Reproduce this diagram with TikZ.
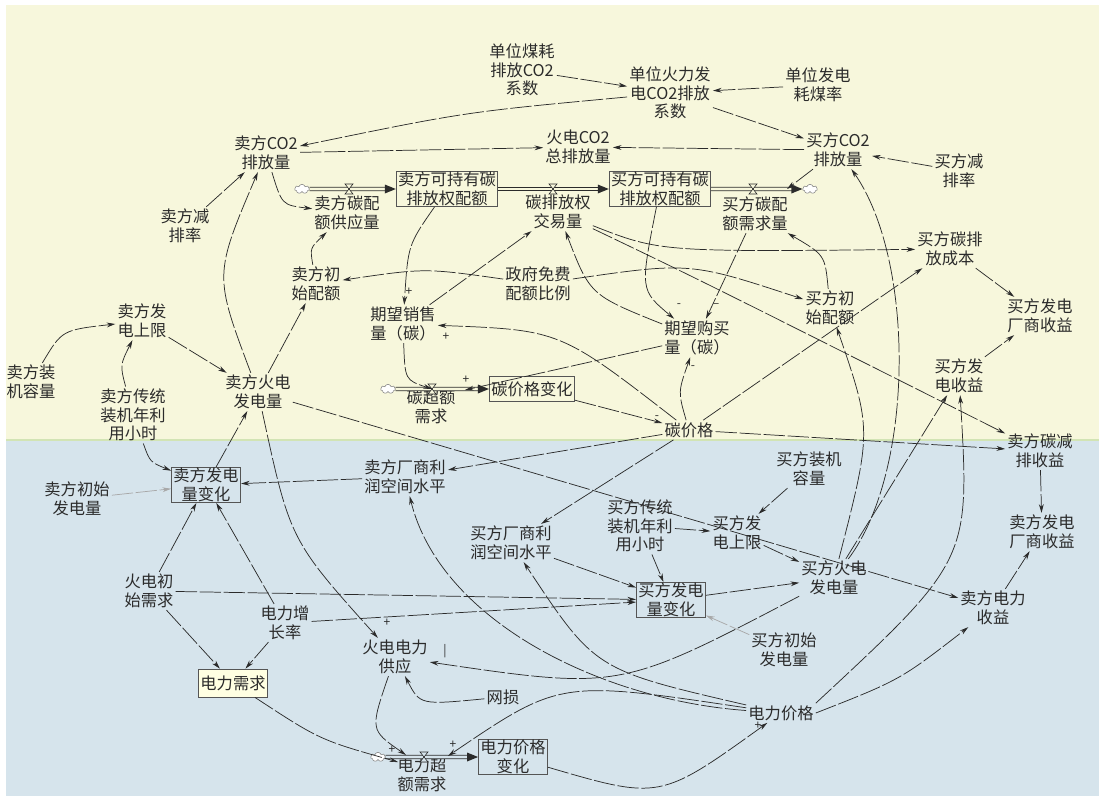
\documentclass[tikz,border=0pt]{standalone}
\usepackage{fontspec}
\setmainfont{Noto Sans CJK SC}
\usetikzlibrary{arrows.meta,shapes.symbols}
\definecolor{bgY}{HTML}{F7F7DC}
\definecolor{bgB}{HTML}{D6E4EC}
\definecolor{ink}{HTML}{2B2B2B}
\definecolor{sepc}{HTML}{D2E4B4}
\definecolor{grayarr}{HTML}{A8A8A8}
\definecolor{boxY}{HTML}{FFFFE2}
\begin{document}
\begin{tikzpicture}[x=0.75pt,y=-0.75pt,
  vn/.style={font=\fontsize{12.2}{14}\selectfont, align=center, text=ink, inner sep=1.5pt},
  stockbox/.style={vn, draw=ink!80, line width=0.6pt, inner xsep=1.5pt, inner ysep=0.5pt},
  lk/.style={draw=ink, line width=0.55pt, dash pattern=on 16pt off 2pt, -{Stealth[length=6.5pt,width=3.6pt]}},
  lkg/.style={lk, draw=grayarr},
  pol/.style={font=\fontsize{9}{9}\selectfont, text=ink, inner sep=0pt},
  pipe/.style={draw=ink, line width=0.5pt, double=#1, double distance=2.2pt},
  cl/.style={cloud, cloud puffs=7, aspect=1.6, draw=gray, fill=white, inner sep=0pt, minimum width=11pt, minimum height=7pt},
  valvest/.style={draw=ink, line width=0.45pt, fill=#1}
]
\useasboundingbox (0,0) rectangle (1099,796);
\fill[white] (0,0) rectangle (1099,796);
\fill[bgY] (6,5) rectangle (1099,440);
\fill[bgB] (6,440) rectangle (1099,796);
\draw[sepc, line width=1.5pt] (6,440) -- (1099,440);

% nodes
\node[vn] (mhxs) at (522,70) {单位煤耗\\排放CO2\\系数};
\node[vn] (hlxs) at (670,93) {单位火力发\\电CO2排放\\系数};
\node[vn] (mhl) at (818,85) {单位发电\\耗煤率};
\node[vn] (sco2) at (266,153) {卖方CO2\\排放量};
\node[vn] (tco2) at (578,147) {火电CO2\\总排放量};
\node[vn] (bco2) at (838,150) {买方CO2\\排放量};
\node[vn] (bjp) at (959,171) {买方减\\排率};
\node[vn] (sjp) at (185,226) {卖方减\\排率};
\node[stockbox] (sst) at (447,189) {卖方可持有碳\\排放权配额};
\node[stockbox] (bst) at (660,189) {买方可持有碳\\排放权配额};
\node[vn] (jyl) at (558,212) {碳排放权\\交易量};
\node[vn] (gyl) at (347,213) {卖方碳配\\额供应量};
\node[vn] (xql) at (755,214) {买方碳配\\额需求量};
\node[vn] (bcost) at (950,249) {买方碳排\\放成本};
\node[vn] (bprofit) at (1040,316) {买方发电\\厂商收益};
\node[vn] (scsp) at (316,284) {卖方初\\始配额};
\node[vn] (zf) at (538,284) {政府免费\\配额比例};
\node[vn] (bcsp) at (830,308) {买方初\\始配额};
\node[vn] (qwxs) at (403,324) {期望销售\\量（碳）};
\node[vn] (qwgm) at (697,338) {期望购买\\量（碳）};
\node[vn] (tcce) at (431,407) {碳超额\\需求};
\node[stockbox, minimum height=19pt] (tjgbh) at (532,389) {碳价格变化};
\node[vn] (tjg) at (689,430) {碳价格};
\node[vn] (ssx) at (142,321) {卖方发\\电上限};
\node[vn] (szj) at (31,382) {卖方装\\机容量};
\node[vn] (sct) at (133,415) {卖方传统\\装机年利\\用小时};
\node[vn] (shd) at (258,392) {卖方火电\\发电量};
\node[stockbox] (sbh) at (206,485) {卖方发电\\量变化};
\node[vn] (scsfd) at (77,499) {卖方初始\\发电量};
\node[vn] (slr) at (405,477) {卖方厂商利\\润空间水平};
\node[vn] (blr) at (511,543) {买方厂商利\\润空间水平};
\node[vn] (bct) at (640,526) {买方传统\\装机年利\\用小时};
\node[vn] (bzj) at (809,469) {买方装机\\容量};
\node[vn] (bsx) at (737,533) {买方发\\电上限};
\node[vn] (bhd) at (834,578) {买方火电\\发电量};
\node[vn] (bcsfd) at (784,650) {买方初始\\发电量};
\node[stockbox] (bbh) at (671,600) {买方发电\\量变化};
\node[vn] (sdl) at (993,608) {卖方电力\\收益};
\node[vn] (sprofit) at (1042,532) {卖方发电\\厂商收益};
\node[vn] (sjpsy) at (1040,451) {卖方碳减\\排收益};
\node[vn] (bfdsy) at (959,376) {买方发\\电收益};
\node[vn] (csxq) at (149,591) {火电初\\始需求};
\node[vn] (zzl) at (285,623) {电力增\\长率};
\node[stockbox, fill=boxY, minimum height=21pt] (dlxq) at (233,683) {电力需求};
\node[vn] (gy) at (395,657) {火电电力\\供应};
\node[vn] (ws) at (503,697) {网损};
\node[vn] (dlcc) at (422,775) {电力超\\额需求};
\node[stockbox] (djbh) at (513,757) {电力价格\\变化};
\node[vn] (dj) at (781,713) {电力价格};

% flow points
\coordinate (v1) at (349,189);
\coordinate (v2) at (553,189);
\coordinate (v3) at (753,189);
\coordinate (v4) at (432,389);
\coordinate (v5) at (424,757);
\coordinate (xqin) at (787,189);
\coordinate (cin) at (465,390);
\coordinate (gyin) at (406,755);
\coordinate (dqin) at (398,762);
\coordinate (djin) at (448,756);

% clouds
\node[cl] (cl1) at (302,189) {};
\node[cl] (cl2) at (810,189) {};
\node[cl] (cl3) at (388,389) {};
\node[cl] (cl4) at (378,757) {};

% pipes
\draw[pipe=bgY, shorten >=7pt] (cl1) -- (sst);
\fill[ink] (sst.west) -- ++(-11,-4.5) -- ++(0,9) -- cycle;
\draw[pipe=bgY, shorten >=7pt] (sst) -- (bst);
\fill[ink] (bst.west) -- ++(-11,-4.5) -- ++(0,9) -- cycle;
\draw[pipe=bgY, shorten >=7pt] (bst) -- (cl2);
\fill[ink] (cl2.west) -- ++(-11,-4.5) -- ++(0,9) -- cycle;
\draw[pipe=bgY, shorten >=7pt] (cl3) -- (tjgbh);
\fill[ink] (tjgbh.west) -- ++(-11,-4.5) -- ++(0,9) -- cycle;
\draw[pipe=bgB, shorten >=7pt] (cl4) -- (djbh);
\fill[ink] (djbh.west) -- ++(-11,-4.5) -- ++(0,9) -- cycle;
\foreach \c in {v1,v2,v3,v4}
  \draw[valvest=bgY, shift={(\c)}] (-4,-5) -- (4,-5) -- (-4,5) -- (4,5) -- cycle;
\draw[valvest=bgB, shift={(v5)}] (-4,-5) -- (4,-5) -- (-4,5) -- (4,5) -- cycle;

% connectors (top)
\draw[lk] (mhxs) -- (hlxs);
\draw[lk] (mhl) -- (hlxs);
\draw[lk] (hlxs) .. controls (465,112) .. (sco2);
\draw[lk] (hlxs) -- (bco2);
\draw[lk] (sco2) -- (tco2);
\draw[lk] (bco2) -- (tco2);
\draw[lk] (bjp) -- (bco2);
\draw[lk] (sjp) -- (sco2);
\draw[lk] (shd) .. controls (214,275) .. (sco2);
\draw[lk] (sco2) .. controls (282,205) .. (gyl);
\draw[lk] (scsp) .. controls (310,248) .. (gyl);
\draw[lk] (sst) .. controls (408,245) .. (qwxs);
\draw[lk] (qwxs) -- (jyl);
\draw[lk] (shd) -- (scsp);
\draw[lk] (zf) .. controls (425,268) .. (scsp);
\draw[lk] (zf) .. controls (690,262) .. (bcsp);
\draw[lk] (bst) .. controls (640,290) .. (qwgm);
\draw[lk] (xql) -- (qwgm);
\draw[lk] (qwgm) .. controls (590,295) .. (jyl);
\draw[lk] (bco2) -- (xqin);
\draw[lk] (bcsp) .. controls (825,255) .. (xql);
\draw[lk] (bhd) .. controls (915,470) and (915,260) .. (bco2);
\draw[lk] (bhd) .. controls (872,430) .. (bcsp);
\draw[lk] (jyl) .. controls (660,252) .. (bcost);
\draw[lk] (jyl) .. controls (700,280) .. (sjpsy);
\draw[lk] (bcost) -- (bprofit);
\draw[lk] (bfdsy) -- (bprofit);
\draw[lk] (bhd) -- (bfdsy);
\draw[lk] (dj.north east) .. controls (970,560) .. (bfdsy);
\draw[lk] (dj.east) .. controls (900,680) .. (sdl);
\draw[lk] (sdl) -- (sprofit);
\draw[lk] (sjpsy) -- (sprofit);
\draw[lk] (tjg) -- (sjpsy);
\draw[lk] (tjg) -- (bcost);
\draw[lk] (tjg) .. controls (560,330) .. (qwxs);
\draw[lk] (qwgm) -- (cin);
\draw[lk] (qwxs) .. controls (405,380) .. (v4);
\draw[lk] (tjgbh) -- (tjg);
\draw[lk] (tjg) .. controls (678,392) .. (qwgm);
\draw[lk] (tjg) -- (slr);
\draw[lk] (tjg) -- (blr);
% left side
\draw[lk] (szj) .. controls (62,330) .. (ssx);
\draw[lk] (sct) .. controls (120,365) .. (ssx);
\draw[lk] (ssx) -- (shd);
\draw[lk] (sct) .. controls (150,462) .. (sbh);
\draw[lkg] (scsfd) -- (sbh);
\draw[lk] (sbh) -- (shd);
\draw[lk] (csxq) -- (sbh);
\draw[lk] (zzl) -- (sbh);
\draw[lk] (slr) -- (sbh);
\draw[lk] (csxq) -- (dlxq);
\draw[lk] (zzl) -- (dlxq);
\draw[lk] (csxq) -- (bbh);
\draw[lk] (zzl) -- (bbh);
\draw[lk] (blr) -- (bbh);
\draw[lk] (bct) -- (bbh);
\draw[lkg] (bcsfd) -- (bbh);
\draw[lk] (bbh) -- (bhd);
\draw[lk] (bzj) -- (bsx);
\draw[lk] (bct) -- (bsx);
\draw[lk] (bsx) -- (bhd);
\draw[lk] (shd) -- (sdl);
\draw[lk] (bhd) .. controls (620,690) .. (gy);
\draw[lk] (shd) .. controls (290,540) .. (gy);
\draw[lk] (ws) .. controls (420,705) .. (gy);
\draw[lk] (gy) .. controls (370,730) .. (gyin);
\draw[lk] (dlxq) .. controls (320,740) .. (dqin);
\draw[lk] (dj) .. controls (560,680) .. (djin);
\draw[lk] (djbh) .. controls (660,800) .. (dj);
\draw[lk] (dj) .. controls (600,700) and (440,620) .. (slr);
\draw[lk] (dj) .. controls (595,670) .. (blr);

% polarity signs
\node[pol] (p1) at (409,292) {+};
\node[pol] (p2) at (446,337) {+};
\node[pol] (p3) at (679,306) {-};
\node[pol] (p4) at (716,306) {–};
\node[pol] (p5) at (693,368) {-};
\node[pol] (p6) at (657,418) {-};
\node[pol] (p7) at (466,380) {+};
\node[pol] (p8) at (387,623) {+};
\node[pol] (p9) at (445,651) {|};
\node[pol] (p10) at (392,750) {+};
\node[pol] (p11) at (453,745) {+};
\node[pol] (p12) at (758,726) {+};
\end{tikzpicture}
\end{document}
